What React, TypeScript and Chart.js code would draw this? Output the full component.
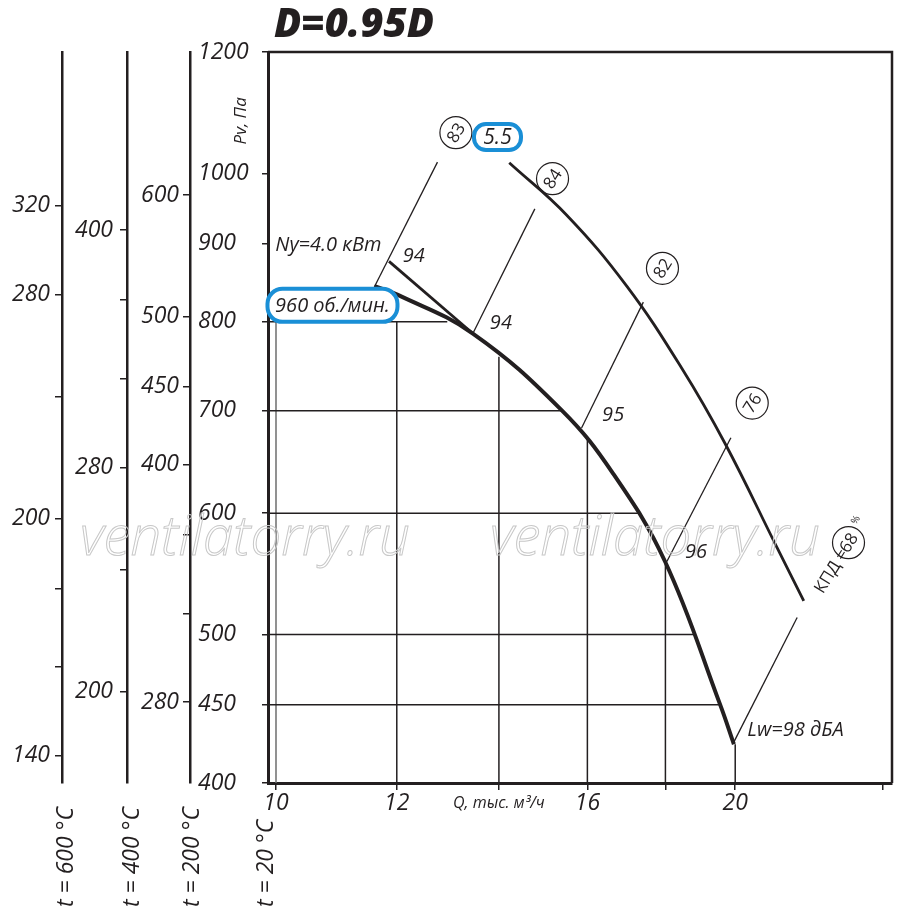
import React, { useEffect, useRef } from "react";
import { Chart, registerables } from "chart.js";

Chart.register(...registerables);

const FONT = '"Open Sans", "DejaVu Sans", sans-serif';
const INK = "#231f20";
const BLUE = "#1a8fd6";

// ---- axes ----
const X_MIN = 9.88;
const X_MAX = 25.34;
const X_TICKS = [10, 12, 14, 16, 18, 20, 25];
const X_TICK_LABELS = ["10", "12", "Q, тыс. м³/ч", "16", "", "20", ""];

const Y_MIN = 400;
const Y_MAX = 1200;
const Y_TICKS = [400, 450, 500, 600, 700, 800, 900, 1000, 1200];

const T200_RATIO = 0.62;
const T200_TICKS = [280, 320, 360, 400, 450, 500, 600];
const T200_LABELS = ["280", "", "", "400", "450", "500", "600"];

const T400_RATIO = 0.4356;
const T400_TICKS = [200, 240, 280, 320, 360, 400];
const T400_LABELS = ["200", "", "280", "", "", "400"];

const T600_RATIO = 0.336;
const T600_TICKS = [140, 160, 180, 200, 240, 280, 320];
const T600_LABELS = ["140", "", "", "200", "", "280", "320"];

// ---- curves ----
const MAIN_Q = [11.6, 12.02, 13.46, 15.4, 16.63, 17.99, 19.55, 19.96];
const MAIN_P = [844, 833, 786, 700, 637, 558, 450, 424];

const UPPER_Q = [11.86, 13.46];
const UPPER_P = [876, 786];

const OUTER_Q = [14.22, 15.51, 16.98, 18.45, 19.7, 21.3, 22.18];
const OUTER_P = [1016, 939, 844, 746, 666, 570, 526];

// efficiency rays
const EFF_LABELS = ["83", "84", "82", "76", "68"];
const EFF_Q_LOW = [11.6, 13.46, 15.86, 18.04, 19.95];
const EFF_P_LOW = [843, 786, 682, 558, 425];
const EFF_Q_HIGH = [12.76, 14.78, 17.41, 19.87, 21.96];
const EFF_P_HIGH = [1017, 948, 824, 672, 513];
const EFF_CIRCLE_Q = [13.12, 15.18, 17.92, 20.52, 23.73];
const EFF_CIRCLE_P = [1063, 992, 867, 708, 574];

// grid segments clipped at the curve
const H_GRID_P = [800, 700, 600, 500, 450];
const H_GRID_Q_END = [12.95, 15.4, 17.27, 18.78, 19.55];
const V_GRID_Q = [10, 12, 14, 16, 18, 20];
const V_GRID_P_END = [800, 800, 759, 673, 558, 424];

// sound level labels
const LW_TEXT = ["94", "94", "95", "96", "Lw=98 дБА"];
const LW_Q = [12.11, 13.81, 16.36, 18.54, 20.37];
const LW_P = [883, 798, 695, 566, 433];

const TITLE = "D=0.95D";
const Y_TITLE = "Pv, Па";
const NY_TEXT = "Ny=4.0 кВт";
const RPM_TEXT = "960 об./мин.";
const POWER_TEXT = "5.5";
const KPD_TEXT = "КПД =";
const WATERMARK = "ventilatorry.ru";
const T_LABELS = ["t = 600 °C", "t = 400 °C", "t = 200 °C", "t = 20 °C"];

const tickFont = { family: FONT, size: 23, style: "italic" as const, lineHeight: "26px" };
const smallTickFont = { family: FONT, size: 16, style: "italic" as const, lineHeight: "26px" };

function fixedTicks(values: number[]) {
  return (scale: any) => {
    scale.ticks = values.map((v) => ({ value: v }));
  };
}

function labelFor(values: number[], labels: string[]) {
  return (v: any) => {
    const i = values.indexOf(Number(v));
    return i >= 0 ? labels[i] : "";
  };
}

function tempAxis(ratio: number, ticks: number[], labels: string[], weight: number, width: number, padding: number) {
  return {
    type: "logarithmic",
    position: "left",
    min: Y_MIN * ratio,
    max: Y_MAX * ratio,
    weight,
    afterBuildTicks: fixedTicks(ticks),
    afterFit: (s: any) => {
      s.width = width;
    },
    border: { display: true, color: INK, width: 2.5 },
    grid: { drawOnChartArea: false, drawTicks: true, tickLength: 7, color: INK, lineWidth: 1.5 },
    ticks: { autoSkip: false, padding, font: tickFont, color: INK, callback: labelFor(ticks, labels) },
  };
}

function seg(q: number[], p: number[]) {
  return q.map((x, i) => ({ x, y: p[i] }));
}

function roundRect(ctx: CanvasRenderingContext2D, x: number, y: number, w: number, h: number, r: number) {
  ctx.beginPath();
  ctx.moveTo(x + r, y);
  ctx.lineTo(x + w - r, y);
  ctx.arcTo(x + w, y, x + w, y + r, r);
  ctx.lineTo(x + w, y + h - r);
  ctx.arcTo(x + w, y + h, x + w - r, y + h, r);
  ctx.lineTo(x + r, y + h);
  ctx.arcTo(x, y + h, x, y + h - r, r);
  ctx.lineTo(x, y + r);
  ctx.arcTo(x, y, x + r, y, r);
  ctx.closePath();
}

const annotations = {
  id: "annotations",
  afterLayout(chart: any) {
    // left-align main y tick labels a little inside the axis box
    chart.scales.y.left += 8;
  },
  afterDraw(chart: any) {
    const ctx: CanvasRenderingContext2D = chart.ctx;
    const xs = chart.scales.x;
    const ys = chart.scales.y;
    const px = (q: number) => xs.getPixelForValue(q);
    const py = (p: number) => ys.getPixelForValue(p);
    const { left, top, right, bottom } = chart.chartArea;
    ctx.save();

    // frame top / right
    ctx.strokeStyle = INK;
    ctx.lineWidth = 2.5;
    ctx.beginPath();
    ctx.moveTo(left, top);
    ctx.lineTo(right, top);
    ctx.lineTo(right, bottom);
    ctx.stroke();

    // watermarks
    const wm = (x0: number, x1: number, base: number) => {
      ctx.font = `italic 300 48px ${FONT}`;
      const w = ctx.measureText(WATERMARK).width;
      const size = (48 * (x1 - x0)) / w;
      ctx.font = `italic 300 ${size}px ${FONT}`;
      ctx.strokeStyle = "#c8c8c8";
      ctx.lineWidth = 1;
      ctx.textAlign = "left";
      ctx.textBaseline = "alphabetic";
      ctx.strokeText(WATERMARK, x0, base);
    };
    wm(80, 410, 555);
    wm(490, 820, 555);

    // title
    ctx.fillStyle = INK;
    ctx.textAlign = "left";
    ctx.textBaseline = "alphabetic";
    ctx.font = `italic 800 40px ${FONT}`;
    ctx.fillText(TITLE, left + 6, top - 15);

    // y title
    ctx.save();
    ctx.translate(ys.right - 27, py(1082));
    ctx.rotate(-Math.PI / 2);
    ctx.font = `italic 17px ${FONT}`;
    ctx.textAlign = "center";
    ctx.textBaseline = "middle";
    ctx.fillText(Y_TITLE, 0, 0);
    ctx.restore();

    // temperature labels under each left axis
    const axes = [chart.scales.t600, chart.scales.t400, chart.scales.t200, ys];
    const offs = [4, 5, 2, -2];
    axes.forEach((s: any, i: number) => {
      ctx.save();
      ctx.translate(s.right + offs[i], 907);
      ctx.rotate(-Math.PI / 2);
      ctx.font = `italic 23px ${FONT}`;
      ctx.textAlign = "left";
      ctx.textBaseline = "middle";
      ctx.fillText(T_LABELS[i], 0, 0);
      ctx.restore();
    });

    // Ny label
    ctx.font = `italic 20px ${FONT}`;
    ctx.textAlign = "left";
    ctx.textBaseline = "middle";
    ctx.fillText(NY_TEXT, px(9.99), py(898));

    // Lw labels
    ctx.font = `italic 20px ${FONT}`;
    LW_TEXT.forEach((t, i) => {
      ctx.fillText(t, px(LW_Q[i]), py(LW_P[i]));
    });

    // efficiency circles
    EFF_LABELS.forEach((t, i) => {
      const cx = px(EFF_CIRCLE_Q[i]);
      const cy = py(EFF_CIRCLE_P[i]);
      ctx.save();
      ctx.translate(cx, cy);
      ctx.strokeStyle = INK;
      ctx.lineWidth = 1.2;
      ctx.beginPath();
      ctx.arc(0, 0, 16, 0, Math.PI * 2);
      ctx.stroke();
      ctx.rotate((-58 * Math.PI) / 180);
      ctx.font = `17px ${FONT}`;
      ctx.textAlign = "center";
      ctx.textBaseline = "middle";
      ctx.fillText(t, 0, 1);
      if (i === EFF_LABELS.length - 1) {
        ctx.textAlign = "right";
        ctx.font = `17px ${FONT}`;
        ctx.fillText(KPD_TEXT, -9, 1);
        ctx.textAlign = "left";
        ctx.font = `10px ${FONT}`;
        ctx.fillText("%", 19, -6);
      }
      ctx.restore();
    });

    // blue boxes
    const box = (q: number, p: number, w: number, h: number, r: number, text: string, size: number) => {
      const cx = px(q);
      const cy = py(p);
      roundRect(ctx, cx - w / 2, cy - h / 2, w, h, r);
      ctx.fillStyle = "#ffffff";
      ctx.fill();
      ctx.strokeStyle = BLUE;
      ctx.lineWidth = 4;
      ctx.stroke();
      ctx.fillStyle = INK;
      ctx.font = `italic ${size}px ${FONT}`;
      ctx.textAlign = "center";
      ctx.textBaseline = "middle";
      ctx.fillText(text, cx, cy + 1);
    };
    box(10.89, 820, 130, 33, 15, RPM_TEXT, 20);
    box(13.97, 1056, 47, 26, 12, POWER_TEXT, 21);

    ctx.restore();
  },
};

export default function App() {
  const ref = useRef<HTMLCanvasElement>(null);

  useEffect(() => {
    const canvas = ref.current;
    if (!canvas) return;

    const gridSets: any[] = [];
    H_GRID_P.forEach((p, i) => {
      gridSets.push({
        data: [
          { x: X_MIN, y: p },
          { x: H_GRID_Q_END[i], y: p },
        ],
        borderColor: INK,
        borderWidth: 1.5,
        pointRadius: 0,
        order: 5,
      });
    });
    V_GRID_Q.forEach((q, i) => {
      gridSets.push({
        data: [
          { x: q, y: Y_MIN },
          { x: q, y: V_GRID_P_END[i] },
        ],
        borderColor: i === 0 ? "#6d6d6d" : INK,
        borderWidth: 1.5,
        pointRadius: 0,
        order: 5,
      });
    });
    const effSets = EFF_LABELS.map((_, i) => ({
      data: [
        { x: EFF_Q_LOW[i], y: EFF_P_LOW[i] },
        { x: EFF_Q_HIGH[i], y: EFF_P_HIGH[i] },
      ],
      borderColor: INK,
      borderWidth: 1.3,
      pointRadius: 0,
      order: 4,
    }));

    const chart = new Chart(canvas, {
      type: "line",
      data: {
        datasets: [
          {
            data: seg(MAIN_Q, MAIN_P),
            borderColor: INK,
            borderWidth: 4,
            pointRadius: 0,
            tension: 0.4,
            order: 1,
          },
          {
            data: seg(UPPER_Q, UPPER_P),
            borderColor: INK,
            borderWidth: 2.8,
            pointRadius: 0,
            order: 2,
          },
          {
            data: seg(OUTER_Q, OUTER_P),
            borderColor: INK,
            borderWidth: 2.8,
            pointRadius: 0,
            tension: 0.4,
            order: 2,
          },
          ...effSets,
          ...gridSets,
        ] as any,
      },
      options: {
        responsive: false,
        animation: false,
        layout: { padding: { top: 52, right: 8, left: 0, bottom: 0 } },
        plugins: { legend: { display: false }, tooltip: { enabled: false } },
        scales: {
          x: {
            type: "logarithmic",
            position: "bottom",
            min: X_MIN,
            max: X_MAX,
            afterBuildTicks: fixedTicks(X_TICKS),
            afterFit: (s: any) => {
              s.height = 136;
            },
            border: { display: true, color: INK, width: 3 },
            grid: { drawOnChartArea: false, drawTicks: true, tickLength: 7, color: INK, lineWidth: 1.5 },
            ticks: {
              autoSkip: false,
              maxRotation: 0,
              padding: 0,
              color: INK,
              font: (c: any) => (c.index === 2 ? smallTickFont : tickFont),
              callback: labelFor(X_TICKS, X_TICK_LABELS),
            },
          },
          y: {
            type: "logarithmic",
            position: "left",
            min: Y_MIN,
            max: Y_MAX,
            weight: 0,
            afterBuildTicks: fixedTicks(Y_TICKS),
            afterFit: (s: any) => {
              s.width = 78;
            },
            border: { display: true, color: INK, width: 3 },
            grid: { drawOnChartArea: false, drawTicks: true, tickLength: 6, color: INK, lineWidth: 1.5 },
            ticks: {
              autoSkip: false,
              crossAlign: "far",
              font: tickFont,
              color: INK,
              callback: (v: any) => String(v),
            },
          },
          t200: tempAxis(T200_RATIO, T200_TICKS, T200_LABELS, 1, 63, 4),
          t400: tempAxis(T400_RATIO, T400_TICKS, T400_LABELS, 2, 65, 7),
          t600: tempAxis(T600_RATIO, T600_TICKS, T600_LABELS, 3, 62, 5),
        } as any,
      },
      plugins: [annotations],
    } as any);

    return () => chart.destroy();
  }, []);

  return (
    <div style={{ position: "absolute", left: 0, top: 0, width: 900, height: 919, background: "#ffffff" }}>
      <canvas ref={ref} width={900} height={919} style={{ display: "block", width: 900, height: 919 }} />
    </div>
  );
}
